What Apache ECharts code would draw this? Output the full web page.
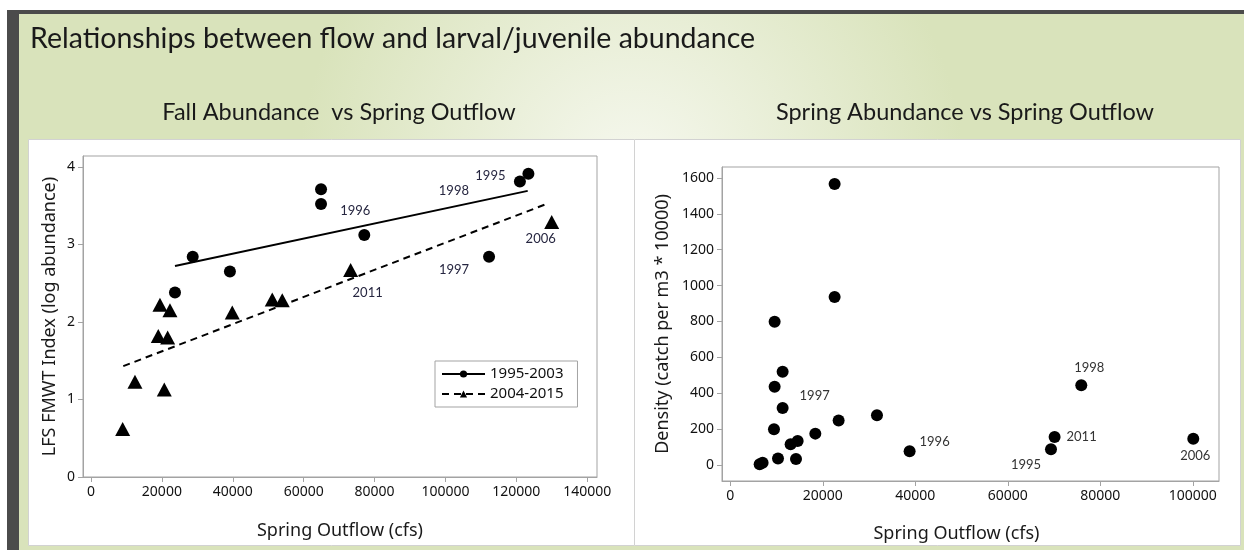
<!DOCTYPE html>
<html>
<head>
<meta charset="utf-8">
<script src="https://cdn.jsdelivr.net/npm/echarts@6/dist/echarts.min.js"></script>
<style>
html,body{margin:0;padding:0;background:#fff;}
#c{width:1244px;height:550px;}
</style>
</head>
<body>
<div id="c"></div>
<script>
// ---------- DATA ----------
const mainTitle = 'Relationships between flow and larval/juvenile abundance';
const leftTitle = 'Fall Abundance  vs Spring Outflow';
const rightTitle = 'Spring Abundance vs Spring Outflow';

// Left panel: 1995-2003 (circles)
const fallEarlyX = [64900, 64900, 28700, 39200, 23700, 77100, 112300, 121000, 123400];
const fallEarlyY = [3.71, 3.52, 2.84, 2.65, 2.38, 3.12, 2.84, 3.81, 3.91];
const fallEarlyLabels = ['', '', '', '', '', '1996', '1997', '1998', '1995'];
// Left panel: 2004-2015 (triangles)
const fallLateX = [73250, 129970, 19460, 22280, 39860, 51140, 53960, 18990, 21630, 12410, 20680, 8940];
const fallLateY = [2.67, 3.29, 2.22, 2.15, 2.12, 2.29, 2.28, 1.82, 1.80, 1.23, 1.13, 0.62];
const fallLateLabels = ['2011', '2006', '', '', '', '', '', '', '', '', '', ''];
// Fitted lines (endpoints)
const fitEarlyX = [23700, 123200];
const fitEarlyY = [2.72, 3.69];
const fitLateX = [9110, 129000];
const fitLateY = [1.43, 3.53];
const legendNames = ['1995-2003', '2004-2015'];

const leftXTicks = [0, 20000, 40000, 60000, 80000, 100000, 120000, 140000];
const leftYTicks = [0, 1, 2, 3, 4];

// Right panel
const springX = [22550, 22550, 9580, 11310, 9580, 11310, 9440, 23420, 31710, 18380, 14560, 13040, 10310, 14200, 6980, 6340, 38770, 75890, 70120, 69340, 100110];
const springY = [1566, 937, 799, 520, 436, 318, 199, 248, 278, 175, 134, 116, 36, 34, 13, 4, 77, 444, 156, 88, 147];
const springLabels = ['', '', '', '', '', '1997', '', '', '', '', '', '', '', '', '', '', '1996', '1998', '2011', '1995', '2006'];

const rightXTicks = [0, 20000, 40000, 60000, 80000, 100000];
const rightYTicks = [0, 200, 400, 600, 800, 1000, 1200, 1400, 1600];

const xName = 'Spring Outflow (cfs)';
const leftYName = 'LFS FMWT Index (log abundance)';
const rightYName = 'Density (catch per m3 * 10000)';

// ---------- STYLE ----------
const labelOffsets = {
  left: {'1996': [-9, -24], '1997': [-35, 13], '1998': [-66, 9], '1995': [-38, 2], '2011': [17, 23], '2006': [-11, 17]},
  right: {'1997': [32, -12], '1996': [25, -9], '1998': [8, -18], '2011': [27, 0], '1995': [-25, 16], '2006': [2, 17]}
};
const UI = '"Noto Sans", "Open Sans", sans-serif';
const CAL = 'Lato, "Noto Sans", sans-serif';
const frameColor = '#a3a3a3';

function pts(xs, ys, labels, side, color) {
  return xs.map((x, i) => {
    const item = {value: [x, ys[i]]};
    const t = labels ? labels[i] : '';
    if (t) {
      item.label = {
        show: true, formatter: t, position: 'inside',
        offset: labelOffsets[side][t], color: color,
        fontFamily: CAL, fontSize: 13
      };
    }
    return item;
  });
}
function line(xs, ys) { return xs.map((x, i) => [x, ys[i]]); }

function valAxis(idx, min, max, ticks, name, gap, extra) {
  return Object.assign({
    type: 'value', gridIndex: idx, min: min, max: max,
    name: name, nameLocation: 'middle', nameGap: gap,
    nameTextStyle: {fontFamily: UI, fontSize: 18, color: '#1a1a1a'},
    axisLine: {show: true, onZero: false, lineStyle: {color: frameColor, width: 1}},
    axisTick: {show: true, inside: false, length: 5, lineStyle: {color: frameColor}, customValues: ticks},
    axisLabel: {show: true, customValues: ticks, fontFamily: UI, fontSize: 14, color: '#111', margin: 8,
      formatter: v => String(v)},
    splitLine: {show: false}
  }, extra || {});
}

const chart = echarts.init(document.getElementById('c'), null, {renderer: 'canvas'});
const option = {
  animation: false,
  backgroundColor: 'transparent',
  graphic: [
    {type: 'rect', z: -10, shape: {x: 0, y: 0, width: 1244, height: 550}, style: {fill: '#ffffff'}},
    {type: 'rect', z: -10, shape: {x: 7, y: 10, width: 1237, height: 540}, style: {fill: '#4b4b4b'}},
    {type: 'rect', z: -10, shape: {x: 19, y: 14, width: 1225, height: 536}, style: {fill: {
      type: 'radial', x: 0.5, y: 0.3, r: 0.62,
      colorStops: [{offset: 0, color: '#f6f8ef'}, {offset: 1, color: '#d9e3bb'}]
    }}},
    {type: 'rect', z: -10, shape: {x: 28.5, y: 139.5, width: 1212, height: 406}, style: {fill: '#ffffff', stroke: '#d2d2d2', lineWidth: 1}},
    {type: 'line', z: -10, shape: {x1: 634.5, y1: 140, x2: 634.5, y2: 545}, style: {stroke: '#d2d2d2', lineWidth: 1}}
  ],
  title: [
    {text: mainTitle, left: 25, top: 19, textStyle: {fontFamily: CAL, fontSize: 28.5, fontWeight: 'normal', color: '#1a1a1a'}},
    {text: leftTitle, left: 334, top: 95, textAlign: 'center', textStyle: {fontFamily: CAL, fontSize: 23.5, fontWeight: 'normal', color: '#1a1a1a'}},
    {text: rightTitle, left: 960, top: 95, textAlign: 'center', textStyle: {fontFamily: CAL, fontSize: 23.5, fontWeight: 'normal', color: '#1a1a1a'}}
  ],
  legend: {
    left: 435, top: 361, orient: 'vertical',
    data: legendNames, selectedMode: false,
    borderColor: frameColor, borderWidth: 1, backgroundColor: '#fff',
    padding: [5, 14, 5, 6], itemGap: 4, itemWidth: 43, itemHeight: 9,
    textStyle: {fontFamily: UI, fontSize: 15, color: '#111', lineHeight: 16}
  },
  grid: [
    {left: 83, top: 156, width: 514, height: 321, show: true, borderColor: frameColor, borderWidth: 1, backgroundColor: 'transparent'},
    {left: 722, top: 167, width: 497, height: 314, show: true, borderColor: frameColor, borderWidth: 1, backgroundColor: 'transparent'}
  ],
  xAxis: [
    valAxis(0, -2250, 142750, leftXTicks, xName, 45),
    valAxis(1, -1800, 105670, rightXTicks, xName, 44, {nameTextStyle: {fontFamily: UI, fontSize: 18, color: '#1a1a1a', padding: [0, 28, 0, 0]}})
  ],
  yAxis: [
    valAxis(0, 0, 4.14, leftYTicks, leftYName, 24),
    valAxis(1, -89, 1661, rightYTicks, rightYName, 50)
  ],
  series: [
    {type: 'scatter', name: 'early', xAxisIndex: 0, yAxisIndex: 0, symbol: 'circle', symbolSize: 12,
     itemStyle: {color: '#000', opacity: 1}, data: pts(fallEarlyX, fallEarlyY, fallEarlyLabels, 'left', '#262640'), z: 5},
    {type: 'scatter', name: 'late', xAxisIndex: 0, yAxisIndex: 0, symbol: 'triangle', symbolSize: [15, 14],
     itemStyle: {color: '#000', opacity: 1}, data: pts(fallLateX, fallLateY, fallLateLabels, 'left', '#262640'), z: 5},
    {type: 'line', name: legendNames[0], xAxisIndex: 0, yAxisIndex: 0, symbol: 'circle', symbolSize: 8, showSymbol: false,
     lineStyle: {color: '#000', width: 2, type: 'solid'}, itemStyle: {color: '#000'}, data: line(fitEarlyX, fitEarlyY), z: 4},
    {type: 'line', name: legendNames[1], xAxisIndex: 0, yAxisIndex: 0, symbol: 'triangle', symbolSize: 8, showSymbol: false,
     lineStyle: {color: '#000', width: 2, type: [7, 5]}, itemStyle: {color: '#000'}, data: line(fitLateX, fitLateY), z: 4},
    {type: 'scatter', name: 'spring', xAxisIndex: 1, yAxisIndex: 1, symbol: 'circle', symbolSize: 12,
     itemStyle: {color: '#000', opacity: 1}, data: pts(springX, springY, springLabels, 'right', '#333333'), z: 5}
  ]
};
chart.setOption(option);
</script>
</body>
</html>
